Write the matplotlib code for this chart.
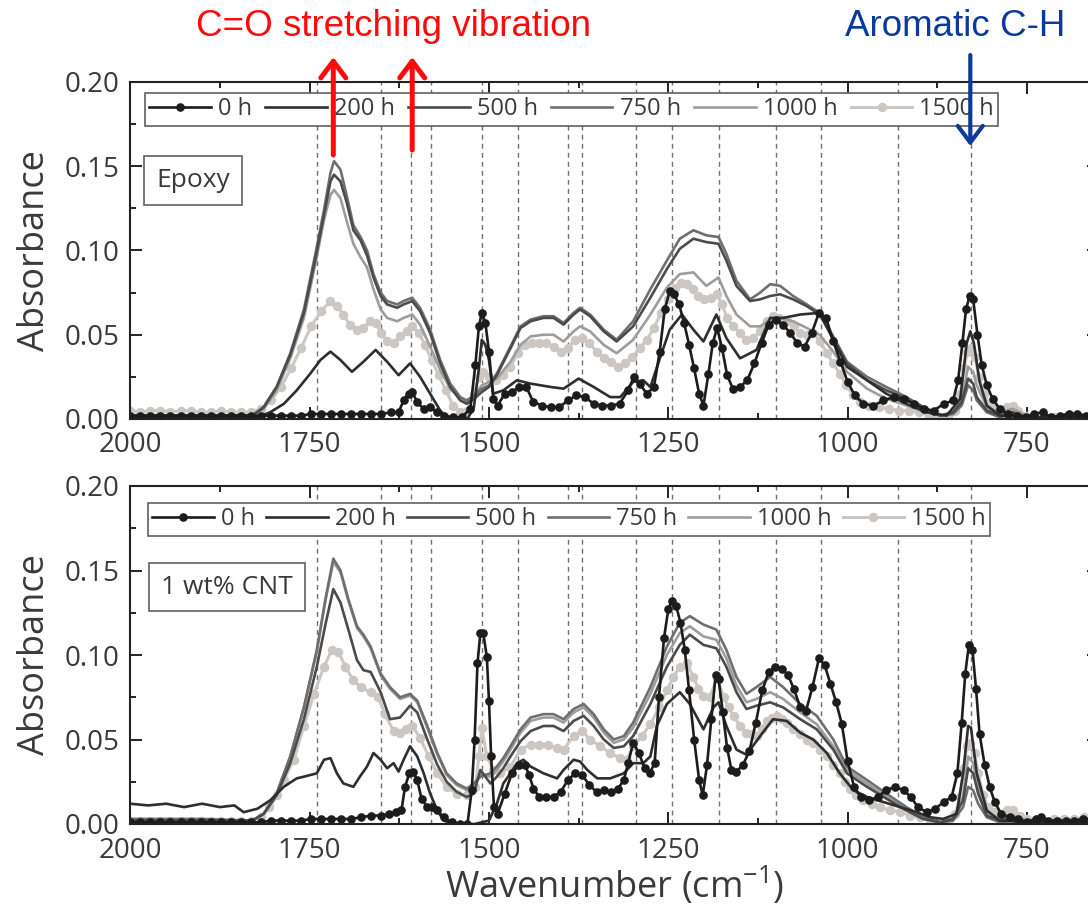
import numpy as np
import matplotlib
matplotlib.use("Agg")
import matplotlib.pyplot as plt
from matplotlib.lines import Line2D
from matplotlib.ticker import MultipleLocator, FormatStrFormatter

plt.rcParams['font.family'] = ['Open Sans', 'DejaVu Sans']
plt.rcParams['mathtext.fontset'] = 'custom'
plt.rcParams['mathtext.rm'] = 'Open Sans'

# ---------------- data (wavenumber cm-1, absorbance) ----------------
labels = ['0 h', '200 h', '500 h', '750 h', '1000 h', '1500 h']
band_lines = [1740, 1650, 1608, 1581, 1510, 1460, 1390, 1370, 1295, 1245,
              1180, 1100, 1037, 930, 828]

# shared grid for the smooth grey curves, top panel (Epoxy)
grid_top = [2000, 1900, 1830, 1814, 1796, 1777, 1758, 1742, 1730, 1721,
            1716, 1707, 1698, 1689, 1679, 1670, 1661, 1651, 1642, 1628,
            1619, 1607, 1596, 1582, 1568, 1554, 1540, 1531, 1521, 1510,
            1500, 1489, 1470, 1456, 1442, 1424, 1410, 1396, 1382, 1373,
            1359, 1340, 1322, 1299, 1275, 1252, 1234, 1215, 1197, 1180,
            1169, 1155, 1136, 1122, 1108, 1094, 1076, 1057, 1039, 1020,
            1001, 973, 946, 918, 890, 871, 853, 841, 832, 825,
            820, 806, 788, 770, 750, 700, 650]

epoxy_500h = [.002, .002, .002, .007, .019, .038, .063, .095, .121, .141,
              .145, .141, .128, .112, .106, .097, .084, .073, .068, .066,
              .068, .070, .064, .051, .033, .019, .011, .009, .012, .016,
              .019, .026, .042, .054, .058, .060, .060, .056, .062, .065,
              .061, .052, .046, .055, .072, .089, .101, .107, .105, .104,
              .094, .079, .070, .071, .073, .074, .071, .067, .062, .048,
              .033, .023, .017, .012, .006, .002, .004, .010, .024, .021,
              .013, .005, .002, .004, .001, .001, .001]
epoxy_750h = [.002, .002, .002, .007, .019, .039, .065, .098, .124, .146,
              .153, .148, .132, .115, .108, .100, .086, .075, .070, .068,
              .070, .072, .066, .053, .035, .021, .013, .011, .014, .018,
              .020, .027, .043, .055, .059, .061, .061, .057, .063, .066,
              .062, .053, .047, .058, .077, .094, .107, .112, .109, .108,
              .098, .082, .071, .075, .080, .079, .073, .068, .063, .049,
              .034, .025, .019, .013, .006, .002, .003, .008, .020, .017,
              .011, .004, .001, .003, .001, .001, .001]
epoxy_1000h = [.002, .002, .002, .006, .017, .036, .060, .092, .118, .133,
               .136, .131, .117, .104, .096, .090, .077, .065, .060, .058,
               .060, .062, .056, .043, .029, .018, .012, .010, .014, .020,
               .022, .024, .034, .044, .049, .050, .050, .046, .052, .055,
               .052, .044, .039, .047, .062, .078, .086, .087, .079, .084,
               .073, .062, .055, .055, .059, .060, .058, .054, .050, .040,
               .028, .018, .012, .008, .004, .002, .003, .012, .031, .028,
               .020, .007, .004, .006, .002, .001, .001]

epoxy_200h = [(2000, .001), (1900, .001), (1830, .001), (1823, .001), (1805, .004),
              (1786, .009), (1768, .017), (1749, .027), (1735, .035), (1721, .040),
              (1707, .035), (1691, .028), (1675, .034), (1658, .041), (1642, .034),
              (1626, .026), (1610, .033), (1596, .025), (1582, .015), (1568, .005),
              (1559, .001), (1530, .000), (1521, .007), (1514, .030), (1510, .047),
              (1505, .044), (1500, .035), (1494, .015), (1480, .017), (1461, .023),
              (1442, .021), (1414, .019), (1396, .018), (1375, .024), (1354, .019),
              (1331, .013), (1317, .013), (1299, .022), (1285, .023), (1275, .019),
              (1261, .037), (1248, .053), (1231, .062), (1215, .053), (1201, .046),
              (1183, .062), (1169, .048), (1150, .036), (1127, .041), (1108, .060),
              (1090, .060), (1066, .062), (1039, .063), (1020, .047), (1001, .031),
              (973, .023), (946, .015), (918, .009), (890, .004), (862, .002),
              (843, .012), (834, .045), (829, .052), (824, .045), (816, .022),
              (806, .008), (788, .002), (750, .001), (650, .001)]

epoxy_0h = [(2000, .002), (1986, .002), (1972, .002), (1958, .002), (1944, .002),
            (1930, .002), (1916, .002), (1902, .002), (1888, .002), (1874, .002),
            (1860, .002), (1846, .002), (1832, .002), (1818, .002), (1804, .002),
            (1790, .002), (1776, .002), (1762, .002), (1748, .003), (1734, .003),
            (1720, .003), (1706, .003), (1692, .003), (1678, .003), (1664, .003),
            (1650, .003), (1636, .004), (1626, .004), (1619, .011), (1612, .015),
            (1607, .016), (1600, .010), (1591, .006), (1582, .007), (1572, .004),
            (1563, .002), (1550, .001), (1538, .001), (1526, .006), (1519, .032),
            (1514, .055), (1510, .063), (1505, .057), (1500, .040), (1494, .012),
            (1488, .008), (1478, .015), (1468, .016), (1458, .019), (1448, .019),
            (1438, .010), (1426, .008), (1414, .007), (1402, .007), (1390, .011),
            (1378, .014), (1366, .013), (1354, .009), (1342, .008), (1330, .008),
            (1318, .009), (1306, .017), (1298, .025), (1290, .021), (1280, .015),
            (1270, .019), (1262, .040), (1255, .065), (1248, .076), (1242, .074),
            (1235, .068), (1228, .057), (1221, .044), (1214, .030), (1207, .015),
            (1201, .008), (1194, .027), (1188, .045), (1182, .054), (1175, .042),
            (1168, .026), (1160, .018), (1150, .019), (1140, .023), (1130, .033),
            (1120, .045), (1110, .056), (1100, .059), (1090, .056), (1080, .051),
            (1070, .045), (1060, .043), (1050, .051), (1040, .063), (1030, .060),
            (1020, .046), (1010, .034), (1000, .022), (990, .014), (978, .009),
            (964, .008), (950, .011), (936, .013), (922, .012), (908, .009),
            (894, .006), (880, .005), (866, .009), (853, .011), (846, .023),
            (840, .045), (835, .065), (830, .073), (825, .071), (819, .050),
            (813, .032), (806, .020), (798, .012), (788, .006), (776, .003),
            (764, .002), (752, .001), (740, .003), (728, .004), (716, .001),
            (704, .002), (692, .003), (680, .003), (668, .002), (656, .002)]

epoxy_1500h = [(2000, .005), (1986, .004), (1972, .005), (1958, .005), (1944, .004),
               (1930, .005), (1916, .005), (1902, .004), (1888, .004), (1874, .005),
               (1860, .004), (1846, .004), (1832, .004), (1818, .006), (1804, .011),
               (1790, .019), (1776, .030), (1762, .042), (1748, .055), (1734, .064),
               (1721, .070), (1712, .067), (1703, .062), (1694, .056), (1684, .053),
               (1675, .054), (1666, .058), (1658, .057), (1650, .051), (1642, .046),
               (1633, .045), (1624, .049), (1614, .052), (1607, .055), (1598, .051),
               (1589, .044), (1580, .035), (1570, .026), (1560, .017), (1550, .008),
               (1540, .004), (1530, .005), (1521, .015), (1514, .025), (1508, .028),
               (1500, .025), (1490, .023), (1480, .026), (1470, .031), (1460, .039),
               (1450, .044), (1440, .045), (1430, .045), (1420, .045), (1410, .043),
               (1400, .040), (1390, .042), (1380, .047), (1370, .048), (1360, .045),
               (1350, .040), (1340, .036), (1330, .034), (1320, .031), (1310, .033),
               (1300, .037), (1290, .042), (1280, .047), (1270, .054), (1260, .063),
               (1250, .071), (1240, .078), (1232, .081), (1224, .080), (1216, .077),
               (1208, .073), (1200, .071), (1191, .072), (1182, .074), (1175, .068),
               (1168, .060), (1160, .055), (1150, .051), (1141, .047), (1132, .048),
               (1122, .052), (1113, .058), (1104, .061), (1095, .060), (1085, .058),
               (1075, .055), (1066, .051), (1056, .050), (1048, .051), (1038, .046),
               (1029, .039), (1020, .033), (1011, .027), (1002, .020), (992, .014),
               (983, .010), (970, .008), (956, .007), (942, .006), (928, .005),
               (914, .005), (900, .004), (886, .002), (872, .001), (860, .002),
               (850, .005), (843, .015), (838, .030), (833, .040), (828, .042),
               (823, .037), (817, .025), (810, .015), (802, .008), (794, .006),
               (786, .005), (778, .007), (770, .008), (762, .005), (752, .002),
               (740, .001), (726, .001), (712, .001), (698, .001), (684, .001),
               (670, .001), (656, .001)]

# shared grid for the smooth grey curves, bottom panel (1 wt% CNT)
grid_bot = [2000, 1900, 1830, 1814, 1796, 1777, 1758, 1740, 1728, 1717,
            1707, 1696, 1684, 1675, 1665, 1651, 1638, 1624, 1610, 1600,
            1586, 1572, 1559, 1545, 1531, 1521, 1512, 1498, 1489, 1480,
            1470, 1456, 1442, 1424, 1410, 1396, 1382, 1368, 1354, 1340,
            1326, 1312, 1299, 1275, 1252, 1234, 1220, 1201, 1183, 1169,
            1155, 1141, 1127, 1108, 1090, 1066, 1043, 1020, 1001, 973,
            946, 918, 895, 871, 853, 839, 832, 825, 818, 806,
            788, 770, 750, 700, 650]

cnt_500h = [.002, .002, .002, .006, .017, .036, .062, .093, .118, .139,
            .131, .115, .097, .091, .090, .078, .062, .063, .070, .066,
            .050, .035, .025, .019, .016, .018, .032, .024, .028, .033,
            .040, .049, .055, .058, .058, .055, .061, .064, .058, .050,
            .045, .046, .052, .071, .093, .106, .112, .106, .104, .093,
            .078, .068, .070, .072, .069, .062, .056, .044, .030, .022,
            .015, .008, .003, .001, .003, .014, .033, .030, .018, .005,
            .002, .004, .001, .001, .001]
cnt_750h = [.003, .003, .002, .006, .018, .040, .069, .103, .133, .157,
            .150, .133, .117, .112, .105, .089, .081, .075, .077, .073,
            .058, .042, .030, .024, .021, .024, .028, .030, .034, .039,
            .046, .056, .063, .065, .065, .062, .068, .071, .065, .056,
            .050, .052, .060, .081, .105, .119, .123, .118, .115, .103,
            .087, .077, .081, .087, .081, .071, .064, .050, .034, .026,
            .018, .010, .004, .001, .002, .010, .022, .020, .012, .004,
            .001, .002, .001, .002, .002]
cnt_1000h = [.002, .002, .002, .006, .018, .040, .069, .102, .132, .155,
             .149, .132, .116, .111, .104, .088, .080, .074, .076, .072,
             .057, .041, .029, .023, .020, .023, .030, .028, .032, .037,
             .044, .054, .061, .063, .063, .060, .066, .069, .063, .054,
             .048, .050, .057, .077, .100, .113, .117, .111, .109, .098,
             .082, .072, .074, .078, .074, .066, .059, .046, .032, .024,
             .016, .009, .004, .001, .003, .016, .040, .036, .022, .007,
             .003, .005, .002, .002, .002]

cnt_200h = [(2000, .012), (1975, .011), (1950, .012), (1925, .010), (1900, .012),
            (1875, .010), (1855, .011), (1842, .007), (1823, .009), (1805, .014),
            (1786, .022), (1768, .027), (1758, .028), (1749, .029), (1740, .030),
            (1730, .038), (1721, .039), (1712, .030), (1703, .024), (1689, .022),
            (1680, .028), (1670, .034), (1661, .042), (1651, .038), (1642, .033),
            (1633, .036), (1626, .031), (1619, .038), (1610, .046), (1600, .040),
            (1591, .030), (1582, .018), (1572, .008), (1563, .002), (1550, .000),
            (1520, .000), (1500, .002), (1489, .012), (1480, .024), (1470, .030),
            (1461, .036), (1452, .038), (1442, .034), (1424, .030), (1405, .027),
            (1396, .032), (1382, .038), (1373, .037), (1363, .032), (1349, .027),
            (1331, .027), (1312, .030), (1299, .036), (1285, .036), (1275, .040),
            (1266, .058), (1252, .071), (1234, .078), (1220, .071), (1201, .056),
            (1187, .069), (1180, .072), (1169, .058), (1155, .044), (1141, .041),
            (1122, .052), (1104, .062), (1085, .061), (1066, .054), (1048, .050),
            (1029, .042), (1011, .030), (992, .020), (973, .016), (950, .013),
            (927, .010), (904, .007), (885, .004), (867, .003), (848, .006),
            (839, .030), (832, .058), (828, .057), (820, .030), (806, .008),
            (788, .002), (750, .001), (650, .001)]

cnt_0h = [(2000, .001), (1986, .001), (1972, .001), (1958, .001), (1944, .001),
          (1930, .001), (1916, .001), (1902, .001), (1888, .001), (1874, .001),
          (1860, .001), (1846, .001), (1832, .001), (1818, .001), (1804, .002),
          (1790, .002), (1776, .002), (1762, .002), (1748, .003), (1734, .003),
          (1720, .003), (1706, .003), (1692, .003), (1678, .004), (1664, .005),
          (1650, .005), (1640, .006), (1630, .007), (1622, .008), (1617, .022),
          (1611, .030), (1606, .031), (1600, .026), (1594, .015), (1586, .010),
          (1579, .010), (1572, .008), (1563, .004), (1552, .001), (1540, .000),
          (1530, .000), (1524, .020), (1520, .050), (1516, .095), (1512, .113),
          (1508, .113), (1503, .099), (1500, .073), (1497, .040), (1493, .010),
          (1488, .006), (1478, .018), (1468, .030), (1458, .035), (1450, .035),
          (1444, .029), (1438, .021), (1430, .016), (1420, .016), (1410, .016),
          (1400, .019), (1390, .026), (1380, .030), (1370, .029), (1360, .023),
          (1350, .019), (1340, .020), (1330, .019), (1320, .021), (1312, .026),
          (1306, .036), (1299, .048), (1291, .042), (1283, .033), (1276, .030),
          (1269, .036), (1263, .075), (1256, .110), (1250, .127), (1245, .132),
          (1239, .129), (1233, .119), (1227, .103), (1221, .079), (1214, .050),
          (1207, .026), (1202, .017), (1196, .035), (1190, .062), (1184, .088),
          (1180, .086), (1174, .066), (1168, .045), (1162, .032), (1155, .031),
          (1146, .035), (1137, .043), (1128, .060), (1119, .079), (1110, .090),
          (1101, .093), (1092, .092), (1083, .088), (1075, .080), (1066, .069),
          (1058, .067), (1049, .081), (1040, .098), (1032, .094), (1024, .083),
          (1016, .072), (1008, .059), (1000, .037), (991, .022), (982, .016),
          (970, .014), (958, .016), (946, .020), (934, .022), (922, .020),
          (912, .016), (902, .010), (890, .007), (878, .009), (866, .013),
          (855, .016), (847, .030), (841, .060), (836, .089), (831, .106),
          (826, .103), (821, .080), (816, .053), (809, .035), (802, .022),
          (795, .013), (786, .006), (774, .004), (762, .003), (750, .001),
          (738, .003), (730, .004), (720, .002), (708, .002), (696, .002),
          (684, .002), (672, .003), (660, .003)]

cnt_1500h = [(2000, .002), (1986, .002), (1972, .002), (1958, .002), (1944, .002),
             (1930, .002), (1916, .002), (1902, .002), (1888, .002), (1874, .002),
             (1860, .002), (1846, .002), (1832, .002), (1818, .004), (1806, .010),
             (1795, .017), (1786, .026), (1772, .038), (1758, .058), (1744, .077),
             (1730, .093), (1719, .103), (1710, .102), (1700, .093), (1689, .085),
             (1679, .081), (1665, .078), (1654, .075), (1645, .065), (1633, .055),
             (1624, .054), (1616, .056), (1607, .058), (1596, .051), (1584, .040),
             (1572, .030), (1559, .022), (1545, .018), (1531, .017), (1519, .022),
             (1514, .040), (1510, .057), (1503, .040), (1494, .032), (1484, .030),
             (1470, .034), (1456, .044), (1442, .047), (1430, .047), (1418, .047),
             (1405, .045), (1396, .044), (1382, .052), (1370, .055), (1359, .050),
             (1345, .046), (1331, .042), (1317, .039), (1308, .038), (1299, .046),
             (1287, .052), (1275, .059), (1263, .069), (1252, .079), (1243, .087),
             (1234, .093), (1224, .095), (1215, .087), (1208, .080), (1201, .076),
             (1192, .075), (1182, .087), (1173, .075), (1166, .069), (1159, .064),
             (1150, .058), (1141, .054), (1134, .053), (1127, .052), (1120, .056),
             (1113, .061), (1106, .063), (1099, .064), (1092, .062), (1085, .060),
             (1076, .056), (1066, .053), (1057, .050), (1048, .048), (1038, .044),
             (1029, .040), (1020, .035), (1011, .030), (1004, .025), (997, .021),
             (988, .017), (978, .014), (966, .012), (955, .010), (941, .008),
             (927, .007), (913, .005), (899, .004), (885, .002), (871, .001),
             (860, .002), (850, .006), (843, .016), (838, .033), (834, .046),
             (829, .048), (823, .042), (818, .030), (811, .017), (804, .010),
             (796, .007), (788, .006), (778, .008), (769, .008), (760, .005),
             (750, .003), (740, .002), (726, .002), (712, .003), (698, .003),
             (684, .003), (670, .004), (656, .004)]

# ---------------- styling ----------------
colors = ['#1c1c1c', '#2e2e2e', '#4b4b4b', '#6f6f6f', '#9d9d9d', '#ccc7c2']
markers = ['o', None, None, None, None, 'o']
msizes = [5.2, 0, 0, 0, 0, 5.8]
lwidths = [1.9, 1.9, 1.9, 1.9, 1.9, 2.2]
text_col = '#3a3a3a'

fig = plt.figure(figsize=(10.88, 9.07), dpi=100)
W, H = 1088.0, 907.0
ax_top = fig.add_axes([130.3 / W, 1 - 419 / H, 968.4 / W, 337 / H])
ax_bot = fig.add_axes([130.3 / W, 1 - 824 / H, 968.4 / W, 338 / H])


def pairs(p):
    a = np.array(p, dtype=float)
    return a[:, 0], a[:, 1]


def draw_panel(ax, series, legend_box, sample, sample_xy):
    for x in band_lines:
        ax.axvline(x, color='#707070', lw=1.0, ls=(0, (3.5, 3)), zorder=0.5)
    for i in [5, 4, 3, 2, 1, 0]:
        wn, ab = series[i]
        ax.plot(wn, ab, color=colors[i], lw=lwidths[i], marker=markers[i],
                ms=msizes[i], mec=colors[i], mfc=colors[i], zorder=2 + (5 - i) * 0.1)
    ax.set_xlim(2000, 650)
    ax.set_ylim(0, 0.2)
    ax.xaxis.set_major_locator(MultipleLocator(250))
    ax.xaxis.set_minor_locator(MultipleLocator(125))
    ax.yaxis.set_major_locator(MultipleLocator(0.05))
    ax.yaxis.set_minor_locator(MultipleLocator(0.025))
    ax.yaxis.set_major_formatter(FormatStrFormatter('%.2f'))
    ax.tick_params(which='both', direction='in', top=True, right=True,
                   width=1.4, color='#222222', labelsize=20, labelcolor=text_col)
    ax.tick_params(which='major', length=8.5)
    ax.tick_params(which='minor', length=4.5)
    ax.tick_params(axis='y', pad=8)
    ax.tick_params(axis='x', pad=9)
    for s in ax.spines.values():
        s.set_linewidth(1.5)
        s.set_color('#222222')
    ax.set_ylabel('Absorbance', fontsize=26, color=text_col, labelpad=8)

    handles = [Line2D([], [], color=colors[i], lw=lwidths[i], marker=markers[i],
                      ms=msizes[i]) for i in range(6)]
    x0, width, ytop = legend_box
    leg = ax.legend(handles, labels, loc='upper left', ncol=6, mode='expand',
                    bbox_to_anchor=(x0, 0, width, ytop), fontsize=17,
                    frameon=True, fancybox=False, framealpha=1,
                    edgecolor='#606060', handlelength=2.6, handletextpad=0.3,
                    columnspacing=0.2, borderpad=0.18, borderaxespad=0)
    leg.get_frame().set_linewidth(1.2)
    for t in leg.get_texts():
        t.set_color(text_col)
    leg.set_zorder(5)

    ax.text(sample_xy[0], sample_xy[1], sample, transform=ax.transAxes,
            fontsize=19, color=text_col, ha='center', va='center', zorder=6,
            bbox=dict(boxstyle='square,pad=0.45', fc='white', ec='#606060', lw=1.2))


top_series = [pairs(epoxy_0h), pairs(epoxy_200h),
              (np.array(grid_top), np.array(epoxy_500h)),
              (np.array(grid_top), np.array(epoxy_750h)),
              (np.array(grid_top), np.array(epoxy_1000h)),
              pairs(epoxy_1500h)]
bot_series = [pairs(cnt_0h), pairs(cnt_200h),
              (np.array(grid_bot), np.array(cnt_500h)),
              (np.array(grid_bot), np.array(cnt_750h)),
              (np.array(grid_bot), np.array(cnt_1000h)),
              pairs(cnt_1500h)]

draw_panel(ax_top, top_series, (0.0152, 0.881, 0.967), 'Epoxy', (0.0647, 0.708))
draw_panel(ax_bot, bot_series, (0.0184, 0.8695, 0.9497), '1 wt% CNT', (0.0999, 0.701))

ax_bot.set_xlabel(r'Wavenumber (cm$^{-1}$)', fontsize=26, color=text_col, labelpad=0)

# ---------------- annotations ----------------
red = '#ff0a0a'
blue = '#0b3a9c'
for x, y0 in [(1717, 0.1567), (1607, 0.1596)]:
    ax_top.annotate('', xy=(x, 0.2148), xytext=(x, y0), xycoords='data',
                    annotation_clip=False,
                    arrowprops=dict(arrowstyle='->,head_length=0.6,head_width=0.45',
                                    color=red, lw=3.6, mutation_scale=20,
                                    shrinkA=0, shrinkB=0), zorder=10)
ax_top.annotate('', xy=(829, 0.162), xytext=(829, 0.216), xycoords='data',
                annotation_clip=False,
                arrowprops=dict(arrowstyle='->,head_length=0.6,head_width=0.45',
                                color=blue, lw=3.0, mutation_scale=20,
                                shrinkA=0, shrinkB=0), zorder=10)

fig.text(393 / W, 1 - 27 / H, 'C=O stretching vibration', color=red,
         fontsize=26.5, family=['Liberation Sans', 'DejaVu Sans'], ha='center', va='center')
fig.text(955 / W, 1 - 27 / H, 'Aromatic C-H', color=blue,
         fontsize=26.5, family=['Liberation Sans', 'DejaVu Sans'], ha='center', va='center')

fig.savefig('out.png', dpi=100)
